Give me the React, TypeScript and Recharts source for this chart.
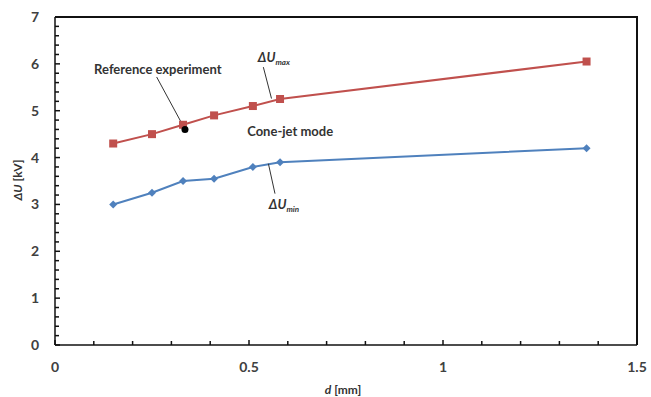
import {
  ComposedChart, Line, Scatter, XAxis, YAxis, ReferenceLine, ReferenceDot, ReferenceArea,
} from 'recharts';

// d [mm] and the two voltage limits
const dValues = [0.15, 0.25, 0.33, 0.41, 0.51, 0.58, 1.37];
const uMax = [4.3, 4.5, 4.7, 4.9, 5.1, 5.25, 6.05];
const uMin = [3.0, 3.25, 3.5, 3.55, 3.8, 3.9, 4.2];
const refPoint = [{ d: 0.335, u: 4.6 }];

const xTicks = [0, 0.1, 0.2, 0.3, 0.4, 0.5, 0.6, 0.7, 0.8, 0.9, 1, 1.1, 1.2, 1.3, 1.4, 1.5];
const xLabels = [0, 0.5, 1, 1.5];
const yTicks = Array.from({ length: 36 }, (_, i) => Math.round(i * 2) / 10);
const yLabels = [0, 1, 2, 3, 4, 5, 6, 7];

const data = dValues.map((d, i) => ({ d, max: uMax[i], min: uMin[i] }));

const RED = '#c0504d';
const BLUE = '#4f81bd';
const FONT = 'Lato, "Open Sans", sans-serif';
const TEXT = '#404040';
const AXIS = '#111';

const W = 651;
const H = 397;
const M = { top: 17, right: 14, left: 55, bottom: 52 };

const isLabel = (v: number, list: number[]) => list.some((l) => Math.abs(l - v) < 1e-6);

const XTick = (props: any) => {
  const { x, y, payload } = props;
  const major = isLabel(payload.value, xLabels);
  return (
    <g>
      <line x1={x} x2={x} y1={y} y2={y - (major ? 5 : 4)} stroke={AXIS} strokeWidth={1.5} />
      {major && (
        <text x={x} y={y + 27} textAnchor="middle" fontFamily={FONT} fontWeight={700} fontSize={14} fill={TEXT}>
          {payload.value}
        </text>
      )}
    </g>
  );
};

const YTick = (props: any) => {
  const { x, y, payload } = props;
  const major = isLabel(payload.value, yLabels);
  return (
    <g>
      <line x1={x} x2={x + (major ? 5 : 4)} y1={y} y2={y} stroke={AXIS} strokeWidth={1.5} />
      {major && (
        <text x={x - 16} y={y + 5} textAnchor="end" fontFamily={FONT} fontWeight={700} fontSize={14} fill={TEXT}>
          {payload.value}
        </text>
      )}
    </g>
  );
};

const Square = (props: any) => {
  const { cx, cy } = props;
  if (cx == null || cy == null) return null;
  return <rect x={cx - 4} y={cy - 4} width={8} height={8} fill={RED} />;
};

const Diamond = (props: any) => {
  const { cx, cy } = props;
  if (cx == null || cy == null) return null;
  return <path d={`M${cx},${cy - 4}L${cx + 4},${cy}L${cx},${cy + 4}L${cx - 4},${cy}Z`} fill={BLUE} />;
};

const RefDot = (props: any) => {
  const { cx, cy } = props;
  return <circle cx={cx} cy={cy} r={3.5} fill="#000" />;
};

// top + right edge of the plot frame
const Frame = (props: any) => {
  const { x, y, width, height } = props;
  return <path d={`M${x},${y}H${x + width}V${y + height}`} fill="none" stroke={AXIS} strokeWidth={2} />;
};

// annotation text anchored in data space
const TextMark = ({ cx, cy, children }: any) => (
  <text x={cx} y={cy + 4} textAnchor="middle" fontFamily={FONT} fontWeight={700} fontSize={13} fill="#333">
    {children}
  </text>
);

const DeltaU = ({ cx, cy, sub }: any) => (
  <text x={cx} y={cy + 4} textAnchor="middle" fontFamily={FONT} fontWeight={700} fontStyle="italic" fontSize={13} fill="#333">
    ΔU<tspan fontSize={8} dy={3}>{sub}</tspan>
  </text>
);

export default function App() {
  return (
    <div style={{ position: 'relative', width: W, height: H, background: '#fff' }}>
      <style>{'body{margin:0}'}</style>
      <ComposedChart width={W} height={H} data={data} margin={{ top: M.top, right: M.right, left: 0, bottom: 0 }}>
        <XAxis
          dataKey="d" type="number" domain={[0, 1.5]} ticks={xTicks} interval={0}
          height={M.bottom} tickSize={0} tickMargin={0} tick={<XTick />}
          axisLine={{ stroke: AXIS, strokeWidth: 1.5 }} allowDataOverflow
        />
        <YAxis
          type="number" domain={[0, 7]} ticks={yTicks} interval={0} width={M.left}
          tickSize={0} tickMargin={0} tick={<YTick />} axisLine={{ stroke: AXIS, strokeWidth: 1.5 }}
        />

        <ReferenceArea x1={0} x2={1.5} y1={0} y2={7} ifOverflow="visible" shape={<Frame />} />

        <Line dataKey="max" stroke={RED} strokeWidth={2} dot={<Square />} isAnimationActive={false} />
        <Line dataKey="min" stroke={BLUE} strokeWidth={2} dot={<Diamond />} isAnimationActive={false} />
        <Scatter data={refPoint} dataKey="u" shape={<RefDot />} isAnimationActive={false} />

        <ReferenceLine segment={[{ x: 0.262, y: 5.72 }, { x: 0.33, y: 4.68 }]} stroke="#333" strokeWidth={1} />
        <ReferenceLine segment={[{ x: 0.537, y: 5.93 }, { x: 0.558, y: 5.26 }]} stroke="#333" strokeWidth={1} />
        <ReferenceLine segment={[{ x: 0.55, y: 3.87 }, { x: 0.567, y: 3.23 }]} stroke="#333" strokeWidth={1} />

        <ReferenceDot x={0.265} y={5.86} r={0} shape={(p: any) => <TextMark {...p}>Reference experiment</TextMark>} />
        <ReferenceDot x={0.606} y={4.54} r={0} shape={(p: any) => <TextMark {...p}>Cone-jet mode</TextMark>} />
        <ReferenceDot x={0.564} y={6.12} r={0} shape={(p: any) => <DeltaU {...p} sub="max" />} />
        <ReferenceDot x={0.59} y={2.98} r={0} shape={(p: any) => <DeltaU {...p} sub="min" />} />
      </ComposedChart>
      <div style={{ position: 'absolute', left: 0, top: 0, width: W, height: H, pointerEvents: 'none', zIndex: 2 }}>
        {/* frame edges drawn again outside the svg in case it is clipped there */}
        <div style={{
          position: 'absolute', left: M.left, top: M.top - 1, width: W - M.left - M.right + 1,
          height: H - M.top - M.bottom + 1, borderTop: `2px solid ${AXIS}`, borderRight: `2px solid ${AXIS}`,
          boxSizing: 'border-box',
        }} />
        <div style={{
          position: 'absolute', left: 17, top: 180, transform: 'translate(-50%, -50%) rotate(-90deg)',
          fontFamily: FONT, fontWeight: 700, fontSize: 12, color: '#333', whiteSpace: 'nowrap',
        }}>
          <i>ΔU</i> [kV]
        </div>
        <div style={{
          position: 'absolute', left: 343, top: 389, transform: 'translate(-50%, -50%)',
          fontFamily: FONT, fontWeight: 700, fontSize: 12, color: '#333', whiteSpace: 'nowrap',
        }}>
          <i>d</i> [mm]
        </div>
      </div>
    </div>
  );
}
